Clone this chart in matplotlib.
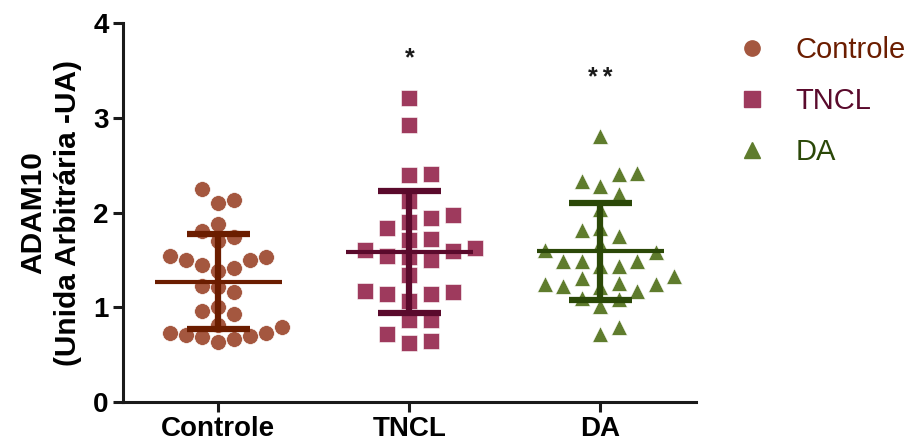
import matplotlib
matplotlib.use("Agg")
import matplotlib.pyplot as plt
from matplotlib.lines import Line2D
import numpy as np

plt.rcParams["font.family"] = ["Liberation Sans", "DejaVu Sans"]

# values
groups = ["Controle", "TNCL", "DA"]
controle = [2.25, 2.13, 2.10, 1.88, 1.81, 1.74, 1.70, 1.53, 1.50, 1.50,
            1.54, 1.41, 1.38, 1.45, 1.22, 1.21, 1.16, 1.00, 0.96, 0.93,
            0.79, 0.81, 0.69, 0.71, 0.73, 0.73, 0.63, 0.66, 0.70]
tncl = [3.21, 2.92, 2.41, 2.40, 2.12, 1.97, 1.90, 1.94, 1.84, 1.72,
        1.71, 1.63, 1.60, 1.59, 1.50, 1.54, 1.53, 1.34, 1.17, 1.14,
        1.07, 1.14, 1.16, 0.87, 0.87, 0.72, 0.62, 0.64]
da = [2.81, 2.42, 2.41, 2.33, 2.28, 2.20, 2.04, 1.84, 1.82, 1.75,
      1.67, 1.60, 1.58, 1.49, 1.49, 1.44, 1.44, 1.49, 1.31, 1.33,
      1.25, 1.25, 1.21, 1.22, 1.26, 1.10, 1.17, 1.09, 1.01, 0.72, 0.79]
means = [1.27, 1.58, 1.59]
sds = [0.50, 0.645, 0.515]
stars = ["", "*", "*\u2009*"]
star_y = [None, 3.63, 3.42]

marker_colors = ["#a4573f", "#9e3a5d", "#5f7c2d"]
line_colors = ["#6b1d00", "#5a0a2c", "#2b4808"]
markers = ["o", "s", "^"]
col_step_px = [16, 22, 18.5]  # horizontal spacing of the dot columns


def swarm_offsets(values, step_px, px_per_x, px_per_y, size_px=15.5):
    """Simple column layout: put each point in the nearest free column."""
    order = np.argsort(values)
    placed = []  # (column, y_px)
    cols = np.zeros(len(values))
    for i in order:
        ypx = values[i] * px_per_y
        for k in [0, 1, -1, 2, -2, 3, -3, 4, -4, 5, -5]:
            if all(c != k or abs(ypx - yy) >= size_px for c, yy in placed):
                placed.append((k, ypx))
                cols[i] = k
                break
    return cols * step_px / px_per_x


fig = plt.figure(figsize=(9.13, 4.43), dpi=100)
ax = fig.add_axes([0.1343, 0.0926, 0.628, 0.855])
ax.set_xlim(-0.5, 2.5)
ax.set_ylim(0, 4)

px_per_x = 0.628 * 913 / 3.0
px_per_y = 0.855 * 443 / 4.0

for i, vals in enumerate([controle, tncl, da]):
    vals = np.array(vals)
    dx = swarm_offsets(vals, col_step_px[i], px_per_x, px_per_y)
    ax.scatter(i + dx, vals, s=128, marker=markers[i], color=marker_colors[i],
               edgecolors="white", linewidths=0.4, zorder=2)
    m, sd = means[i], sds[i]
    ax.plot([i - 0.333, i + 0.333], [m, m], color=line_colors[i], lw=3, zorder=3,
            solid_capstyle="butt")
    ax.plot([i, i], [m - sd, m + sd], color=line_colors[i], lw=4.5, zorder=3,
            solid_capstyle="butt")
    for yy in (m - sd, m + sd):
        ax.plot([i - 0.165, i + 0.165], [yy, yy], color=line_colors[i], lw=4.5,
                zorder=3, solid_capstyle="butt")
    if stars[i]:
        ax.text(i, star_y[i], stars[i], ha="center", va="center", fontsize=18,
                fontweight="bold", color="#1a1a1a")

for side in ["top", "right"]:
    ax.spines[side].set_visible(False)
for side in ["left", "bottom"]:
    ax.spines[side].set_linewidth(2.2)
    ax.spines[side].set_color("#1a1a1a")

ax.set_xticks([0, 1, 2])
ax.set_xticklabels(groups, fontsize=20, fontweight="bold")
ax.set_yticks([0, 1, 2, 3, 4])
ax.set_yticklabels(["0", "1", "2", "3", "4"], fontsize=20, fontweight="bold")
ax.tick_params(axis="both", width=2.2, length=7, color="#1a1a1a", pad=3)
ax.set_ylabel("ADAM10\n(Unida Arbitrária -UA)", fontsize=21.5, fontweight="bold",
              linespacing=1.3, labelpad=8)

handles = [Line2D([], [], marker=markers[i], color=marker_colors[i], ls="none",
                  markersize=11) for i in range(3)]
leg = fig.legend(handles, groups, loc="upper left",
                 bbox_to_anchor=(0.808, 0.918), frameon=False, fontsize=21,
                 handlelength=1.0, handletextpad=0.97, labelspacing=0.78,
                 borderpad=0, borderaxespad=0)
for txt, c in zip(leg.get_texts(), line_colors):
    txt.set_color(c)

fig.savefig("out.png", dpi=100)
